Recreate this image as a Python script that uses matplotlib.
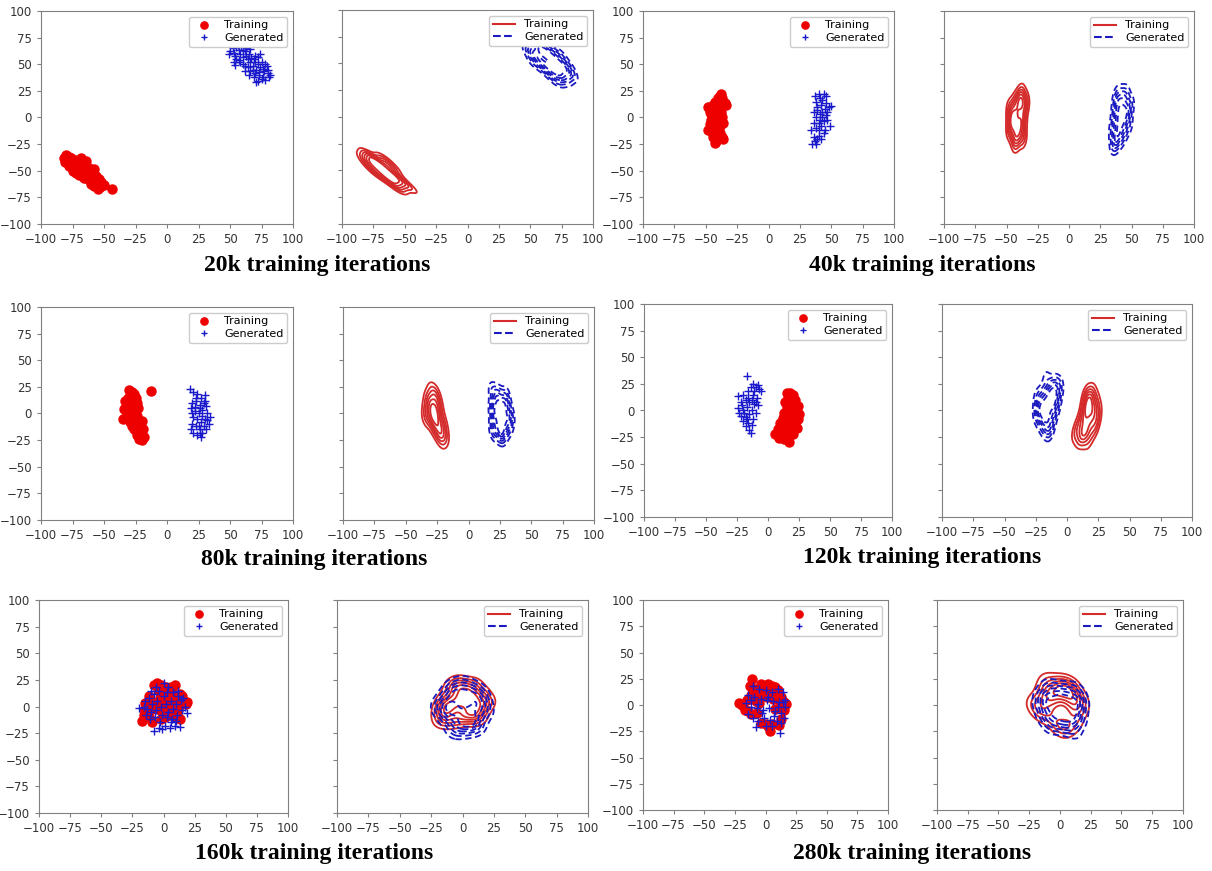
import numpy as np
import matplotlib
matplotlib.use('Agg')
from matplotlib import pyplot as plt
from matplotlib.lines import Line2D

# ---- point clouds (x, y) for each checkpoint ----
train_20k = [(-82,-38),(-80,-35),(-79,-40),(-78,-37),(-81,-42),(-77,-43),(-76,-38),(-75,-41),
             (-74,-45),(-73,-40),(-72,-47),(-71,-43),(-70,-50),(-69,-45),(-68,-42),(-67,-48),
             (-66,-52),(-65,-44),(-64,-55),(-63,-50),(-62,-47),(-61,-58),(-60,-53),(-59,-56),
             (-58,-48),(-57,-60),(-56,-55),(-55,-62),(-54,-58),(-53,-65),(-52,-61),(-55,-67),
             (-58,-64),(-60,-62),(-63,-58),(-66,-57),(-70,-54),(-72,-52),(-75,-50),(-78,-46),
             (-68,-38),(-64,-41),(-44,-67),(-50,-63),(-62,-53)]
gen_20k = [(49,60),(50,62),(53,61),(55,66),(56,68),(57,63),(58,60),(60,63),(62,62),(63,58),
           (64,55),(65,60),(66,52),(67,56),(68,48),(69,55),(70,52),(71,45),(72,50),(73,40),
           (74,47),(75,52),(76,38),(77,44),(78,35),(79,48),(80,42),(81,38),(82,40),(72,34),
           (75,36),(70,42),(66,44),(62,48),(58,52),(55,55),(60,57),(64,47),(68,45),(73,43),
           (78,50),(54,58),(66,64),(70,58),(76,46),(53,52),(54,49),(57,54),(60,50),(62,44),
           (65,40),(69,38),(71,33),(74,60),(72,57),(80,45),(55,71),(52,65),(59,67),(63,65)]

train_40k = [(-48,10),(-47,5),(-46,-2),(-48,-12),(-45,-8),(-44,12),(-43,15),(-42,0),(-41,-5),
             (-40,8),(-39,20),(-38,22),(-37,18),(-36,12),(-35,14),(-34,12),(-38,-3),(-39,-15),
             (-40,-20),(-42,-22),(-43,-24),(-44,-18),(-45,-14),(-46,3),(-42,5),(-40,-10),
             (-37,-18),(-36,-20),(-38,5),(-41,15),(-44,2),(-43,-10),(-39,-8),(-37,0),(-36,-5),
             (-42,-15),(-45,-3),(-47,-6),(-40,18),(-38,14)]
gen_40k = [(37,20),(38,15),(40,22),(41,18),(44,22),(46,20),(39,10),(42,12),(45,8),(48,10),
           (50,11),(36,5),(38,0),(41,3),(43,5),(46,2),(47,-2),(49,-8),(36,-5),(38,-10),
           (40,-12),(42,-8),(44,-3),(45,-12),(34,-12),(36,-18),(37,-22),(35,-25),(39,-20),
           (42,-20),(44,-15),(40,-5),(43,0),(39,7),(41,-2),(47,5),(46,14),(40,-17),(38,-25),(43,16)]

train_80k = [(-30,22),(-28,20),(-26,18),(-25,15),(-33,12),(-31,10),(-29,8),(-27,12),(-24,10),
             (-23,5),(-34,4),(-32,0),(-30,-3),(-28,2),(-26,0),(-24,-2),(-35,-5),(-33,-4),
             (-29,-8),(-27,-6),(-25,-10),(-22,-8),(-20,-7),(-28,-12),(-26,-15),(-23,-14),
             (-21,-16),(-19,-15),(-24,-20),(-22,-24),(-20,-25),(-18,-22),(-27,5),(-31,15),
             (-25,3),(-13,21),(-29,-1),(-23,-18),(-30,6),(-26,-4)]
gen_80k = [(18,23),(21,20),(24,18),(27,15),(30,17),(20,10),(23,12),(26,8),(29,10),(31,7),
           (19,5),(22,2),(25,0),(28,3),(32,0),(34,-3),(21,-3),(24,-5),(27,-8),(30,-5),
           (33,-10),(20,-10),(23,-12),(26,-15),(29,-12),(31,-15),(21,-18),(24,-20),(27,-22),
           (28,-18),(22,6),(26,5),(30,12),(19,-15),(25,-12),(32,-6),(23,15),(28,-2),(20,0),(26,-18)]

train_120k = [(15,16),(18,16),(20,15),(16,12),(19,12),(22,10),(14,8),(17,8),(21,6),(24,4),
              (15,3),(18,2),(22,0),(25,-3),(13,-2),(16,-4),(20,-5),(24,-8),(12,-7),(15,-10),
              (19,-9),(22,-12),(10,-12),(14,-14),(18,-15),(23,-16),(8,-17),(12,-20),(16,-20),
              (20,-22),(6,-22),(9,-26),(13,-27),(17,-30),(15,-24),(11,-25),(18,5),(16,0),
              (20,-2),(14,-18)]
gen_120k = [(-17,32),(-12,25),(-10,22),(-8,24),(-6,18),(-14,22),(-16,18),(-20,15),(-24,14),
            (-12,15),(-9,12),(-18,10),(-22,8),(-15,8),(-11,6),(-8,5),(-24,2),(-20,0),(-17,3),
            (-13,0),(-10,-2),(-22,-5),(-18,-6),(-15,-3),(-12,-8),(-20,-10),(-16,-12),(-13,-14),
            (-18,-15),(-15,-18),(-14,-21),(-11,18),(-19,-2),(-16,12),(-21,5),(-7,20),(-13,10),
            (-17,-8),(-10,8),(-23,-2)]

train_160k = [(-8,20),(-5,22),(-2,20),(2,18),(6,18),(9,20),(-12,10),(-4,15),(-1,12),(3,10),
              (8,12),(13,12),(15,10),(-15,3),(-13,0),(-10,5),(-6,2),(0,5),(5,3),(10,5),(14,2),
              (19,4),(18,2),(-16,-3),(-14,-5),(-9,-2),(-3,-3),(3,-2),(8,-4),(12,-3),(-16,-8),
              (-12,-10),(-2,-12),(5,-8),(10,-10),(13,-12),(-17,-14),(-9,-15),(1,-10),(-3,8),
              (6,8),(11,-6)]
gen_160k = [(-20,-1),(-15,5),(-12,8),(-8,12),(-4,15),(0,22),(4,18),(8,14),(12,10),(16,8),
            (19,-6),(15,-3),(10,2),(6,5),(2,2),(-2,0),(-6,-3),(-10,-5),(-14,-8),(-11,-12),
            (-7,-10),(-3,-15),(1,-18),(5,-20),(9,-18),(13,-19),(-1,-21),(-4,-20),(-8,-23),
            (3,-10),(7,-12),(11,-8),(-5,5),(0,10),(4,-5),(8,-2),(-9,2),(-13,-2),(14,6),(17,0),
            (-6,18),(3,14),(-1,-8),(6,-15),(10,-14),(-16,0),(12,15),(-10,15)]

train_280k = [(-11,25),(-4,20),(-1,18),(2,20),(5,18),(8,17),(-13,18),(-8,15),(-3,12),(0,14),
              (4,12),(9,10),(13,8),(-12,10),(-15,5),(-10,8),(-6,8),(1,8),(6,6),(11,5),(15,3),
              (17,1),(-22,2),(-19,0),(-17,-5),(-14,-6),(-12,-9),(-7,-8),(-5,2),(8,-4),(12,-3),
              (15,-5),(13,-13),(11,-19),(5,-18),(0,-18),(-4,-17),(4,-25),(2,-20),(6,15),(-8,4),
              (10,14)]
gen_280k = [(-10,18),(-5,15),(0,14),(5,12),(10,15),(14,12),(16,5),(-14,10),(-9,8),(-4,6),
            (1,5),(6,4),(11,3),(16,-2),(-16,2),(-12,-2),(-7,-3),(-2,-5),(3,-3),(8,-6),(13,-8),
            (15,-12),(-14,-9),(-10,-12),(-6,-15),(-1,-12),(4,-14),(9,-15),(13,-17),(-8,-21),
            (0,-20),(12,-27),(-12,5),(7,-10),(2,8),(-3,-8),(10,-2),(-6,1),(14,3),(5,-20)]

titles = ['20k training iterations', '40k training iterations', '80k training iterations',
          '120k training iterations', '160k training iterations', '280k training iterations']
sets = [(train_20k, gen_20k), (train_40k, gen_40k), (train_80k, gen_80k),
        (train_120k, gen_120k), (train_160k, gen_160k), (train_280k, gen_280k)]

ticks = [-100, -75, -50, -25, 0, 25, 50, 75, 100]

W, H = 1212, 871
# pixel boxes (left, right, top, bottom) of scatter / contour axes per checkpoint
boxes = [((41, 293, 11, 224), (342, 593, 10, 224)),
         ((643, 894, 11, 224), (944, 1194, 11, 224)),
         ((41, 293, 307, 520), (343, 594, 307, 520)),
         ((644, 892, 304, 517), (942, 1192, 304, 517)),
         ((39, 288, 600, 813), (337, 588, 600, 813)),
         ((643, 888, 600, 810), (937, 1183, 600, 810))]
title_pos = [(317, 265), (922, 265), (314, 559), (922, 557), (314, 853), (912, 853)]

grid = np.linspace(-100, 100, 300)
gx, gy = np.meshgrid(grid, grid)

leg_kw = dict(loc='upper right', fontsize=8, framealpha=1, edgecolor='#cccccc',
              borderpad=0.35, labelspacing=0.25, handlelength=2.0, borderaxespad=0.5)


def kde(pts):
    # gaussian kde with scott bandwidth
    p = np.asarray(pts, float).T
    n = p.shape[1]
    cov = np.cov(p) * n ** (-1.0 / 3)
    inv = np.linalg.inv(cov)
    dx = gx[..., None] - p[0]
    dy = gy[..., None] - p[1]
    q = inv[0, 0] * dx * dx + 2 * inv[0, 1] * dx * dy + inv[1, 1] * dy * dy
    return np.exp(-0.5 * q).sum(axis=-1)


def make_ax(fig, box):
    l, r, t, b = box
    ax = fig.add_axes([l / W, 1 - b / H, (r - l) / W, (b - t) / H])
    ax.set_xlim(-100, 100)
    ax.set_ylim(-100, 100)
    ax.set_xticks(ticks)
    ax.set_yticks(ticks)
    for s in ax.spines.values():
        s.set_color('#808080')
    ax.tick_params(colors='#808080', labelcolor='#333333', labelsize=8.5, length=3)
    return ax


fig = plt.figure(figsize=(W / 100, H / 100), dpi=100)

for (tr, ge), (b1, b2), title, (tx, ty) in zip(sets, boxes, titles, title_pos):
    tr = np.array(tr)
    ge = np.array(ge)

    ax = make_ax(fig, b1)
    ax.plot(tr[:, 0], tr[:, 1], 'o', color='#ee0000', markersize=6.5, label='Training')
    ax.plot(ge[:, 0], ge[:, 1], '+', color='#1a1acc', markersize=6, mew=1, label='Generated')
    ax.legend(numpoints=1, markerscale=0.8, **leg_kw)

    ax2 = make_ax(fig, b2)
    ax2.set_yticklabels([])
    for pts, col, ls in [(tr, '#d42a2a', 'solid'), (ge, '#1a1ac0', (0, (3.5, 2)))]:
        z = kde(pts)
        lev = z.max() * np.array([0.14, 0.28, 0.42, 0.56, 0.7, 0.84])
        ax2.contour(gx, gy, z, levels=lev, colors=col, linestyles=[ls], linewidths=1.3)
    handles = [Line2D([], [], color='#d42a2a', lw=1.5),
               Line2D([], [], color='#1a1ac0', lw=1.5, ls='--')]
    ax2.legend(handles, ['Training', 'Generated'], **leg_kw)

    fig.text(tx / W, 1 - ty / H, title, ha='center', va='center',
             family='Liberation Serif', weight='bold', fontsize=17)

fig.savefig('out.png', dpi=100)
